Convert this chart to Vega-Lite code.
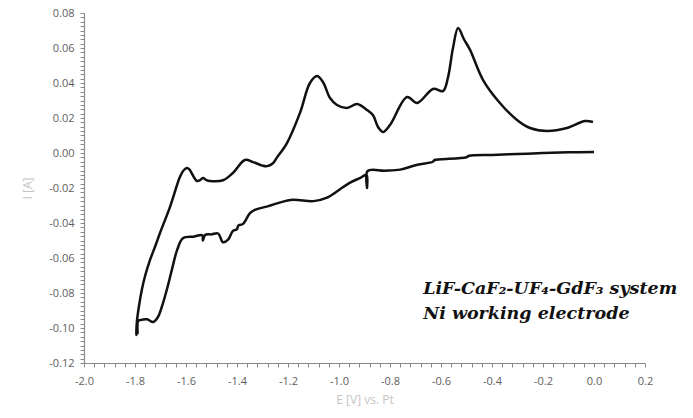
{
  "$schema": "https://vega.github.io/schema/vega-lite/v6.json",
  "width": 561,
  "height": 350,
  "autosize": {"type": "none"},
  "padding": {"left": 84, "top": 13, "right": 48, "bottom": 55},
  "background": "white",
  "config": {
    "view": {"stroke": null},
    "axis": {"labelFont": "Open Sans", "titleFont": "Open Sans", "grid": false}
  },
  "datasets": {
    "cv": [
      {"o": 1, "E": 0.000, "I": 0.0006},
      {"o": 2, "E": -0.10, "I": 0.0004},
      {"o": 3, "E": -0.20, "I": 0.0000},
      {"o": 4, "E": -0.30, "I": -0.0006},
      {"o": 5, "E": -0.40, "I": -0.0011},
      {"o": 6, "E": -0.49, "I": -0.0016},
      {"o": 7, "E": -0.50, "I": -0.0024},
      {"o": 8, "E": -0.60, "I": -0.0036},
      {"o": 9, "E": -0.625, "I": -0.0040},
      {"o": 10, "E": -0.632, "I": -0.0050},
      {"o": 11, "E": -0.70, "I": -0.0070},
      {"o": 12, "E": -0.76, "I": -0.0095},
      {"o": 13, "E": -0.82, "I": -0.0101},
      {"o": 14, "E": -0.888, "I": -0.0103},
      {"o": 15, "E": -0.890, "I": -0.0200},
      {"o": 16, "E": -0.892, "I": -0.0125},
      {"o": 17, "E": -0.918, "I": -0.0143},
      {"o": 18, "E": -0.96, "I": -0.0172},
      {"o": 19, "E": -1.00, "I": -0.0211},
      {"o": 20, "E": -1.047, "I": -0.0255},
      {"o": 21, "E": -1.10, "I": -0.0275},
      {"o": 22, "E": -1.19, "I": -0.0268},
      {"o": 23, "E": -1.28, "I": -0.0305},
      {"o": 24, "E": -1.33, "I": -0.0325},
      {"o": 25, "E": -1.35, "I": -0.0345},
      {"o": 26, "E": -1.376, "I": -0.0405},
      {"o": 27, "E": -1.395, "I": -0.0415},
      {"o": 28, "E": -1.40, "I": -0.0435},
      {"o": 29, "E": -1.416, "I": -0.0445},
      {"o": 30, "E": -1.435, "I": -0.0495},
      {"o": 31, "E": -1.455, "I": -0.0510},
      {"o": 32, "E": -1.474, "I": -0.0460},
      {"o": 33, "E": -1.50, "I": -0.0465},
      {"o": 34, "E": -1.525, "I": -0.0468},
      {"o": 35, "E": -1.534, "I": -0.0500},
      {"o": 36, "E": -1.536, "I": -0.0470},
      {"o": 37, "E": -1.57, "I": -0.0478},
      {"o": 38, "E": -1.612, "I": -0.0487},
      {"o": 39, "E": -1.635, "I": -0.0555},
      {"o": 40, "E": -1.655, "I": -0.0665},
      {"o": 41, "E": -1.675, "I": -0.0780},
      {"o": 42, "E": -1.695, "I": -0.0880},
      {"o": 43, "E": -1.710, "I": -0.0937},
      {"o": 44, "E": -1.729, "I": -0.0966},
      {"o": 45, "E": -1.753, "I": -0.0950},
      {"o": 46, "E": -1.78, "I": -0.0955},
      {"o": 47, "E": -1.788, "I": -0.0960},
      {"o": 48, "E": -1.790, "I": -0.1030},
      {"o": 49, "E": -1.792, "I": -0.0990},
      {"o": 50, "E": -1.795, "I": -0.1040},
      {"o": 51, "E": -1.793, "I": -0.0970},
      {"o": 52, "E": -1.785, "I": -0.0880},
      {"o": 53, "E": -1.773, "I": -0.0780},
      {"o": 54, "E": -1.760, "I": -0.0700},
      {"o": 55, "E": -1.741, "I": -0.0611},
      {"o": 56, "E": -1.720, "I": -0.0530},
      {"o": 57, "E": -1.702, "I": -0.0457},
      {"o": 58, "E": -1.663, "I": -0.0309},
      {"o": 59, "E": -1.624, "I": -0.0137},
      {"o": 60, "E": -1.610, "I": -0.0100},
      {"o": 61, "E": -1.596, "I": -0.0086},
      {"o": 62, "E": -1.586, "I": -0.0095},
      {"o": 63, "E": -1.576, "I": -0.0120},
      {"o": 64, "E": -1.557, "I": -0.0160},
      {"o": 65, "E": -1.545, "I": -0.0155},
      {"o": 66, "E": -1.533, "I": -0.0143},
      {"o": 67, "E": -1.520, "I": -0.0155},
      {"o": 68, "E": -1.506, "I": -0.0160},
      {"o": 69, "E": -1.455, "I": -0.0156},
      {"o": 70, "E": -1.416, "I": -0.0114},
      {"o": 71, "E": -1.369, "I": -0.0040},
      {"o": 72, "E": -1.337, "I": -0.0052},
      {"o": 73, "E": -1.300, "I": -0.0072},
      {"o": 74, "E": -1.282, "I": -0.0075},
      {"o": 75, "E": -1.260, "I": -0.0060},
      {"o": 76, "E": -1.243, "I": -0.0025},
      {"o": 77, "E": -1.204, "I": 0.0057},
      {"o": 78, "E": -1.153, "I": 0.0229},
      {"o": 79, "E": -1.114, "I": 0.0400},
      {"o": 80, "E": -1.086, "I": 0.0440},
      {"o": 81, "E": -1.063, "I": 0.0406},
      {"o": 82, "E": -1.035, "I": 0.0314},
      {"o": 83, "E": -1.008, "I": 0.0274},
      {"o": 84, "E": -0.969, "I": 0.0257},
      {"o": 85, "E": -0.929, "I": 0.0280},
      {"o": 86, "E": -0.890, "I": 0.0246},
      {"o": 87, "E": -0.867, "I": 0.0217},
      {"o": 88, "E": -0.847, "I": 0.0149},
      {"o": 89, "E": -0.827, "I": 0.0120},
      {"o": 90, "E": -0.800, "I": 0.0160},
      {"o": 91, "E": -0.733, "I": 0.0320},
      {"o": 92, "E": -0.694, "I": 0.0286},
      {"o": 93, "E": -0.631, "I": 0.0366},
      {"o": 94, "E": -0.592, "I": 0.0354},
      {"o": 95, "E": -0.573, "I": 0.0429},
      {"o": 96, "E": -0.553, "I": 0.0600},
      {"o": 97, "E": -0.533, "I": 0.0714},
      {"o": 98, "E": -0.510, "I": 0.0650},
      {"o": 99, "E": -0.486, "I": 0.0589},
      {"o": 100, "E": -0.435, "I": 0.0417},
      {"o": 101, "E": -0.369, "I": 0.0286},
      {"o": 102, "E": -0.302, "I": 0.0189},
      {"o": 103, "E": -0.251, "I": 0.0143},
      {"o": 104, "E": -0.184, "I": 0.0126},
      {"o": 105, "E": -0.106, "I": 0.0143},
      {"o": 106, "E": -0.035, "I": 0.0183},
      {"o": 107, "E": -0.004, "I": 0.0177}
    ],
    "notes": [
      {"E": -0.67, "I": -0.0775, "t": "LiF-CaF₂-UF₄-GdF₃ system"},
      {"E": -0.67, "I": -0.0920, "t": "Ni working electrode"}
    ]
  },
  "layer": [
    {
      "data": {"name": "cv"},
      "mark": {"type": "line", "color": "#111111", "strokeWidth": 2.5, "interpolate": "catmull-rom", "strokeJoin": "round"},
      "encoding": {
        "x": {"field": "E", "type": "quantitative", "scale": {"domain": [-2.0, 0.2], "nice": false, "zero": false},
          "axis": {"orient": "bottom", "tickCount": 500, "values": [-2.0,-1.96,-1.92,-1.88,-1.84,-1.8,-1.76,-1.72,-1.68,-1.64,-1.6,-1.56,-1.52,-1.48,-1.44,-1.4,-1.36,-1.32,-1.28,-1.24,-1.2,-1.16,-1.12,-1.08,-1.04,-1.0,-0.96,-0.92,-0.88,-0.84,-0.8,-0.76,-0.72,-0.68,-0.64,-0.6,-0.56,-0.52,-0.48,-0.44,-0.4,-0.36,-0.32,-0.28,-0.24,-0.2,-0.16,-0.12,-0.08,-0.04,0.0,0.04,0.08,0.12,0.16,0.2],
            "labelExpr": "abs(datum.value * 5 - round(datum.value * 5)) < 0.001 ? replace(format(datum.value, '.1f'), '−', '-') : ''",
            "labelOverlap": false, "labelFlush": false, "labelBound": false, "labelSeparation": 0,
            "title": "E [V] vs. Pt", "titleColor": "#c4c4c4", "titleFontSize": 12, "titleFontWeight": "normal", "titlePadding": 8,
            "labelColor": "#606060", "labelFontSize": 11, "labelPadding": 8,
            "ticks": true, "tickSize": 4, "tickColor": "#8a8a8a", "tickWidth": 1,
            "domainColor": "#8a8a8a", "domainWidth": 1.2}},
        "y": {"field": "I", "type": "quantitative", "scale": {"domain": [-0.12, 0.08], "nice": false, "zero": false},
          "axis": {"orient": "left", "tickCount": 500, "values": [-0.12,-0.1175,-0.115,-0.1125,-0.11,-0.1075,-0.105,-0.1025,-0.1,-0.0975,-0.095,-0.0925,-0.09,-0.0875,-0.085,-0.0825,-0.08,-0.0775,-0.075,-0.0725,-0.07,-0.0675,-0.065,-0.0625,-0.06,-0.0575,-0.055,-0.0525,-0.05,-0.0475,-0.045,-0.0425,-0.04,-0.0375,-0.035,-0.0325,-0.03,-0.0275,-0.025,-0.0225,-0.02,-0.0175,-0.015,-0.0125,-0.01,-0.0075,-0.005,-0.0025,0.0,0.0025,0.005,0.0075,0.01,0.0125,0.015,0.0175,0.02,0.0225,0.025,0.0275,0.03,0.0325,0.035,0.0375,0.04,0.0425,0.045,0.0475,0.05,0.0525,0.055,0.0575,0.06,0.0625,0.065,0.0675,0.07,0.0725,0.075,0.0775,0.08],
            "labelExpr": "abs(datum.value * 50 - round(datum.value * 50)) < 0.001 ? replace(format(datum.value, '.2f'), '−', '-') : ''",
            "labelOverlap": false, "labelFlush": false, "labelBound": false, "labelSeparation": 0,
            "title": "I [A]", "titleColor": "#c4c4c4", "titleFontSize": 12, "titleFontWeight": "normal", "titlePadding": 14,
            "labelColor": "#606060", "labelFontSize": 11, "labelPadding": 6,
            "ticks": true, "tickSize": 4, "tickColor": "#8a8a8a", "tickWidth": 1,
            "domainColor": "#8a8a8a", "domainWidth": 1.2}},
        "order": {"field": "o", "type": "quantitative"}
      }
    },
    {
      "data": {"name": "notes"},
      "mark": {"type": "text", "align": "left", "baseline": "middle", "font": "DejaVu Serif", "fontStyle": "italic", "fontWeight": "bold", "fontSize": 17.5, "color": "#111111"},
      "encoding": {
        "x": {"field": "E", "type": "quantitative"},
        "y": {"field": "I", "type": "quantitative"},
        "text": {"field": "t"}
      }
    }
  ]
}
